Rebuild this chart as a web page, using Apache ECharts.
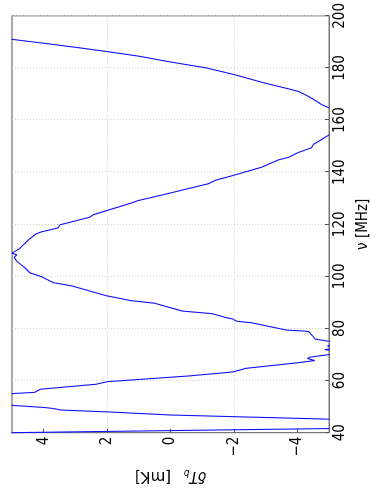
<!DOCTYPE html>
<html>
<head>
<meta charset="utf-8">
<script src="https://cdn.jsdelivr.net/npm/echarts@6/dist/echarts.min.js"></script>
<style>
  html, body { margin: 0; padding: 0; background: #fff; overflow: hidden; }
  body { width: 376px; height: 491px; position: relative; }
  /* the figure is laid out landscape and turned a quarter turn counter-clockwise */
  #chart {
    position: absolute; left: 0; top: 0;
    width: 491px; height: 376px;
    transform-origin: 0 0;
    transform: translate(0, 491px) rotate(-90deg);
  }
</style>
</head>
<body>
<div id="chart"></div>
<script>
// frequency samples [MHz]
const nu = [40, 41.6, 42.5, 43.5, 44.5, 45.2, 46.8, 48.0, 48.7, 49.3, 49.7, 50.5, 51.5, 53.0, 54.0, 55.0,
  55.5, 56.7, 58.6, 59.6, 61.8, 63.3, 64.1, 64.7, 66.8, 67.7, 68.5, 69.0, 70.0, 71.2, 71.9, 72.5,
  73.3, 74.0, 75.0, 75.9, 76.9, 78.8, 79.0, 79.4, 80.7, 82.2, 82.8, 83.7, 84.2, 85.7, 86.7, 89.7,
  90.7, 92.6, 96.4, 97.6, 99.9, 101.4, 103.3, 105.8, 107.3, 108.3, 108.9, 110.8, 113.9, 116.4, 117.1,
  118.6, 119.8, 122.7, 123.7, 126.8, 128.4, 129.0, 131.9, 135.6, 136.9, 138.8, 141.9, 144.7, 145.7,
  147.6, 149.4, 150.7, 152.2, 154.3, 157.0, 159.5, 162.0, 164.7, 166.0, 167.3, 169.1, 171.0, 172.0,
  174.2, 177.5, 180.1, 182.3, 184.5, 186.3, 187.9, 189.5, 191.0, 200];

// brightness temperature fluctuation [mK]
const dTb = [5.1, -5.0, -7.5, -8.5, -7.0, -5.0, 0.0, 2.0, 3.45, 3.7, 4.0, 5.0, 6.3, 6.8, 6.2, 5.0,
  4.28, 4.1, 2.35, 1.98, -0.59, -1.95, -2.2, -2.37, -3.98, -4.55, -4.32, -4.4, -5.0, -5.3, -4.87, -5.2,
  -4.95, -5.1, -5.05, -4.57, -4.5, -4.36, -4.25, -3.66, -3.14, -2.56, -2.09, -1.95, -1.75, -1.31, -0.37, 0.5,
  1.25, 2.03, 3.13, 3.7, 4.07, 4.44, 4.59, 4.85, 4.93, 4.85, 5.0, 4.75, 4.49, 4.23, 4.07,
  3.55, 3.49, 2.55, 2.43, 1.6, 1.18, 1.05, 0.04, -1.2, -1.42, -1.99, -2.87, -3.4, -3.72,
  -4.04, -4.45, -4.51, -4.72, -5.0, -5.6, -5.8, -5.55, -5.0, -4.76, -4.6, -4.35, -4.04, -3.72,
  -2.98, -2.0, -1.1, 0.0, 0.98, 2.0, 2.97, 4.0, 5.0, 12];

const nuTicks = [40, 60, 80, 100, 120, 140, 160, 180, 200];
const dTbTicks = [-4, -2, 0, 2, 4];

const points = nu.map((v, i) => [v, dTb[i]]);
const fmtMinus = v => (v < 0 ? '\u2212' + (-v) : String(v));
const FONT = '"DejaVu Sans Condensed", "DejaVu Sans", sans-serif';

const chart = echarts.init(document.getElementById('chart'), null, { renderer: 'canvas' });
chart.setOption({
  animation: false,
  backgroundColor: '#fff',
  textStyle: { fontFamily: FONT },
  grid: {
    left: 53, right: 13, top: 12, bottom: 45,
    show: true, borderColor: '#777', borderWidth: 1, backgroundColor: 'transparent'
  },
  xAxis: [{
    type: 'value', min: nuTicks[0], max: nuTicks[nuTicks.length - 1], interval: 20,
    position: 'bottom',
    axisLine: { show: true, onZero: false, lineStyle: { color: '#777', width: 1 } },
    axisTick: { show: true, inside: true, length: 4, lineStyle: { color: '#555' } },
    axisLabel: { color: '#000', fontSize: 15, margin: 4, fontFamily: FONT },
    splitLine: { show: true, lineStyle: { color: '#cfcfcf', type: [1, 2], width: 1 } },
    name: 'ν [MHz]', nameLocation: 'middle', nameGap: 27,
    nameTextStyle: { color: '#000', fontSize: 15, fontFamily: FONT }
  }, {
    type: 'value', min: nuTicks[0], max: nuTicks[nuTicks.length - 1], interval: 20,
    position: 'top',
    axisLine: { show: true, onZero: false, lineStyle: { color: '#a8a8a8', width: 2 } },
    axisTick: { show: false }, axisLabel: { show: false }, splitLine: { show: false }
  }],
  yAxis: {
    type: 'value', min: -5, max: 5, interval: 1,
    axisLine: { show: true, onZero: false, lineStyle: { color: '#777', width: 1 } },
    axisTick: { show: true, inside: true, length: 4, customValues: dTbTicks, lineStyle: { color: '#555' } },
    axisLabel: {
      color: '#000', fontSize: 15, margin: 4, fontFamily: FONT,
      customValues: dTbTicks, formatter: fmtMinus
    },
    splitLine: { show: true, lineStyle: { color: ['transparent', '#cfcfcf'], type: [1, 2], width: 1 } },
    name: '{i|δT}{s|b}   {n|[mK]}', nameLocation: 'middle', nameGap: 19, nameRotate: 90,
    nameTextStyle: {
      color: '#000', fontSize: 15, fontFamily: FONT,
      rich: {
        i: { fontStyle: 'italic', fontSize: 15, fontFamily: FONT, color: '#000' },
        s: { fontStyle: 'italic', fontSize: 10, fontFamily: FONT, color: '#000', verticalAlign: 'bottom', padding: [6, 0, 0, 0] },
        n: { fontSize: 15, fontFamily: '"DejaVu Sans", sans-serif', color: '#000' }
      }
    }
  },
  series: [{
    type: 'line',
    data: points,
    xAxisIndex: 0,
    showSymbol: false,
    clip: true,
    lineStyle: { color: '#1010ff', width: 1.1 },
    silent: true
  }]
});
</script>
</body>
</html>
